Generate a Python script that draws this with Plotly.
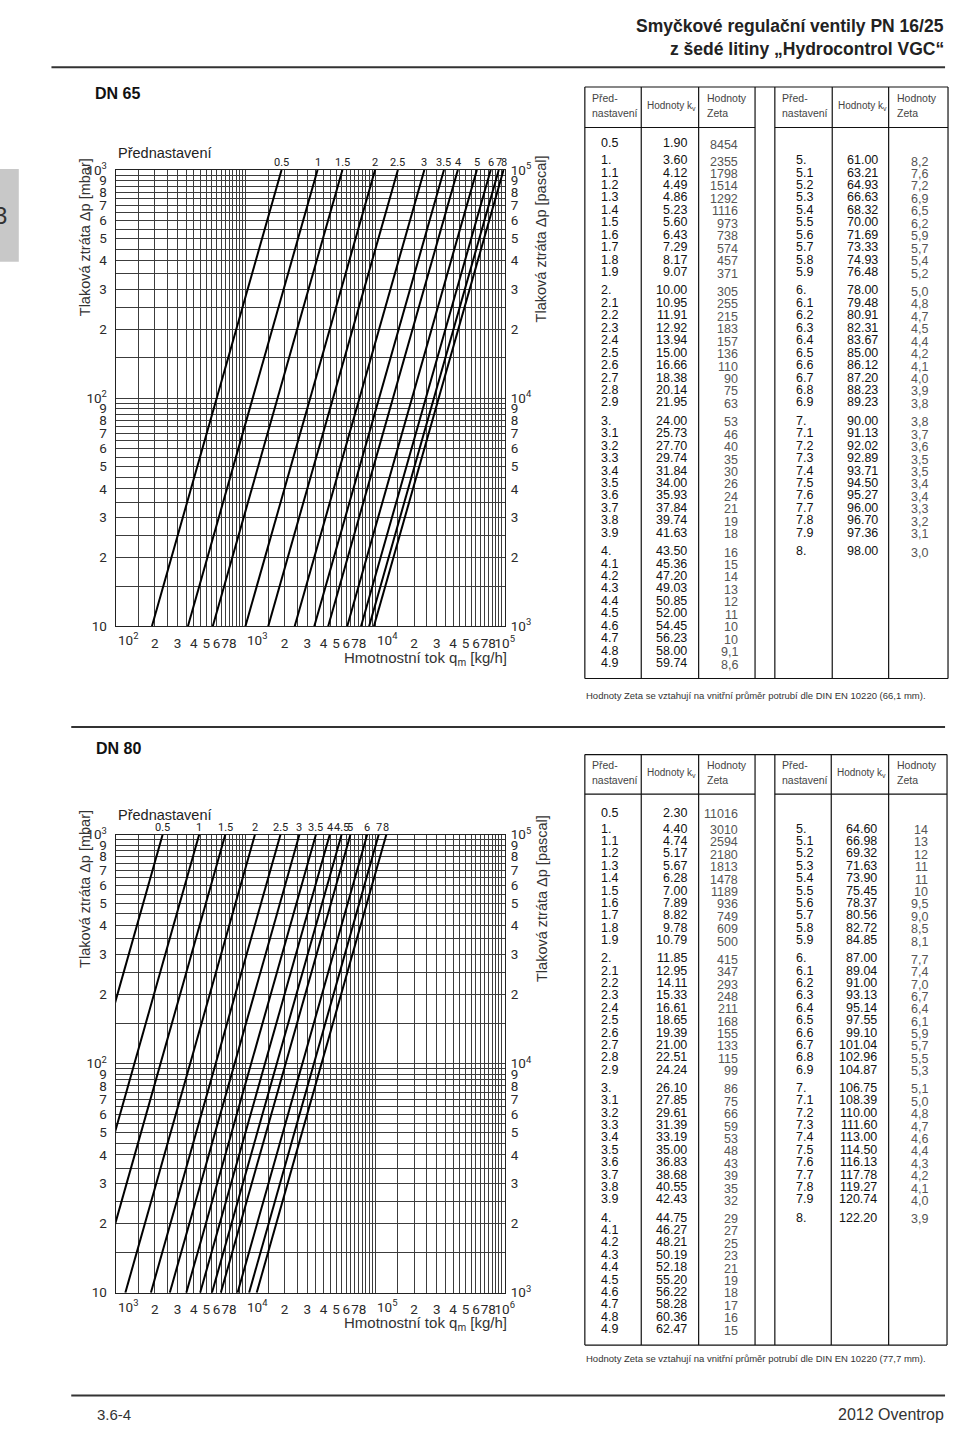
import math
import plotly.graph_objects as go

W, H = 960, 1435
SANS = "Liberation Sans, Arial, sans-serif"
NARROW = "Liberation Sans Narrow, Arial Narrow, Liberation Sans, sans-serif"
TECH = "Roboto, Noto Sans, DejaVu Sans, sans-serif"

# ---------------- data ----------------
presets_left = ["0.5"] + [f"{g}.{d}" if d else f"{g}." for g in range(1, 5) for d in range(10)]
presets_right = [f"{g}.{d}" if d else f"{g}." for g in range(5, 8) for d in range(10)] + ["8."]

kv65_left = [1.90, 3.60, 4.12, 4.49, 4.86, 5.23, 5.60, 6.43, 7.29, 8.17, 9.07,
             10.00, 10.95, 11.91, 12.92, 13.94, 15.00, 16.66, 18.38, 20.14, 21.95,
             24.00, 25.73, 27.70, 29.74, 31.84, 34.00, 35.93, 37.84, 39.74, 41.63,
             43.50, 45.36, 47.20, 49.03, 50.85, 52.00, 54.45, 56.23, 58.00, 59.74]
zeta65_left = ["8454", "2355", "1798", "1514", "1292", "1116", "973", "738", "574", "457", "371",
               "305", "255", "215", "183", "157", "136", "110", "90", "75", "63",
               "53", "46", "40", "35", "30", "26", "24", "21", "19", "18",
               "16", "15", "14", "13", "12", "11", "10", "10", "9,1", "8,6"]
kv65_right = [61.00, 63.21, 64.93, 66.63, 68.32, 70.00, 71.69, 73.33, 74.93, 76.48,
              78.00, 79.48, 80.91, 82.31, 83.67, 85.00, 86.12, 87.20, 88.23, 89.23,
              90.00, 91.13, 92.02, 92.89, 93.71, 94.50, 95.27, 96.00, 96.70, 97.36,
              98.00]
zeta65_right = ["8,2", "7,6", "7,2", "6,9", "6,5", "6,2", "5,9", "5,7", "5,4", "5,2",
                "5,0", "4,8", "4,7", "4,5", "4,4", "4,2", "4,1", "4,0", "3,9", "3,8",
                "3,8", "3,7", "3,6", "3,5", "3,5", "3,4", "3,4", "3,3", "3,2", "3,1",
                "3,0"]

kv80_left = [2.30, 4.40, 4.74, 5.17, 5.67, 6.28, 7.00, 7.89, 8.82, 9.78, 10.79,
             11.85, 12.95, 14.11, 15.33, 16.61, 18.65, 19.39, 21.00, 22.51, 24.24,
             26.10, 27.85, 29.61, 31.39, 33.19, 35.00, 36.83, 38.68, 40.55, 42.43,
             44.75, 46.27, 48.21, 50.19, 52.18, 55.20, 56.22, 58.28, 60.36, 62.47]
zeta80_left = ["11016", "3010", "2594", "2180", "1813", "1478", "1189", "936", "749", "609", "500",
               "415", "347", "293", "248", "211", "168", "155", "133", "115", "99",
               "86", "75", "66", "59", "53", "48", "43", "39", "35", "32",
               "29", "27", "25", "23", "21", "19", "18", "17", "16", "15"]
kv80_right = [64.60, 66.98, 69.32, 71.63, 73.90, 75.45, 78.37, 80.56, 82.72, 84.85,
              87.00, 89.04, 91.00, 93.13, 95.14, 97.55, 99.10, 101.04, 102.96, 104.87,
              106.75, 108.39, 110.00, 111.60, 113.00, 114.50, 116.13, 117.78, 119.27, 120.74,
              122.20]
zeta80_right = ["14", "13", "12", "11", "11", "10", "9,5", "9,0", "8,5", "8,1",
                "7,7", "7,4", "7,0", "6,7", "6,4", "6,1", "5,9", "5,7", "5,5", "5,3",
                "5,1", "5,0", "4,8", "4,7", "4,6", "4,4", "4,3", "4,2", "4,1", "4,0",
                "3,9"]

curves65 = ["0.5", "1", "1.5", "2", "2.5", "3", "3.5", "4", "5", "6", "7", "8"]
curves80 = ["0.5", "1", "1.5", "2", "2.5", "3", "3.5", "4", "4.5", "5", "6", "7", "8"]

grid_mantissas = [1, 1.5, 2, 2.5, 3, 3.5, 4, 4.5, 5, 5.5, 6, 6.5, 7, 7.5, 8, 8.5, 9, 9.5]
x_labelled = [2, 3, 4, 5, 6, 7, 8]
y_labelled = [2, 3, 4, 5, 6, 7, 8, 9]
dp_range_mbar = [10, 1000]


def kv_lookup(presets, kvs):
    return {float(p[:-1]) if p.endswith(".") else float(p): k for p, k in zip(presets, kvs)}


kvmap65 = kv_lookup(presets_left, kv65_left)
kvmap65.update(kv_lookup(presets_right, kv65_right))
kvmap80 = kv_lookup(presets_left, kv80_left)
kvmap80.update(kv_lookup(presets_right, kv80_right))


# ---------------- helpers (page pixels -> paper) ----------------
def PX(x):
    return x / W


def PY(y):
    return 1 - y / H


annotations = []
shapes = []


def T(x, y, text, size=12, color="#111", xa="left", ya="middle", family=SANS, angle=0):
    annotations.append(dict(x=PX(x), y=PY(y), xref="paper", yref="paper", text=text, showarrow=False,
                            xanchor=xa, yanchor=ya, textangle=angle,
                            font=dict(size=size, color=color, family=family), borderpad=0))


def L(x0, y0, x1, y1, w=1.2, color="#111"):
    shapes.append(dict(type="line", xref="paper", yref="paper", x0=PX(x0), y0=PY(y0), x1=PX(x1), y1=PY(y1),
                       line=dict(color=color, width=w)))


def log_ticks(dec_lo, dec_hi, labelled, decade_text=True):
    vals, txt = [], []
    for d in range(dec_lo, dec_hi + 1):
        for m in grid_mantissas:
            if d == dec_hi and m > 1:
                break
            vals.append(m * 10 ** d)
            if m == 1:
                txt.append(f"10<sup>{d}</sup>" if (decade_text or d == dec_hi) else "")
            elif m in labelled:
                txt.append(str(int(m)))
            else:
                txt.append("")
    return vals, txt


fig = go.Figure()

# ---------------- curves ----------------
for curves, kvmap, xa, ya in [(curves65, kvmap65, "x", "y"), (curves80, kvmap80, "x2", "y2")]:
    for c in curves:
        kv = kvmap[float(c)]
        qm = [1000 * kv * (dp / 1000) ** 0.5 for dp in dp_range_mbar]
        fig.add_trace(go.Scatter(x=qm, y=dp_range_mbar, xaxis=xa, yaxis=ya, mode="lines",
                                 line=dict(color="#000", width=2), showlegend=False, hoverinfo="skip"))
# invisible traces for the pascal axes
fig.add_trace(go.Scatter(x=[1e3], y=[1e4], xaxis="x", yaxis="y3", mode="markers",
                         marker=dict(opacity=0), showlegend=False, hoverinfo="skip"))
fig.add_trace(go.Scatter(x=[1e4], y=[1e4], xaxis="x2", yaxis="y4", mode="markers",
                         marker=dict(opacity=0), showlegend=False, hoverinfo="skip"))

# ---------------- axes ----------------
GRID = "#3c3c3c"
TICKF = dict(family=TECH, size=13.5, color="#2a2a2a")


def xaxis(dom, lo, hi, anchor):
    v, t = log_ticks(lo, hi, x_labelled, decade_text=False)
    return dict(type="log", range=[lo, hi], domain=dom, anchor=anchor, tickvals=v, ticktext=t,
                showgrid=True, gridcolor=GRID, gridwidth=1, showline=True, linecolor="#222",
                linewidth=1.3, mirror=True, ticks="", tickfont=TICKF, zeroline=False,
                tickangle=0, ticklabelstandoff=4)


def yaxis(dom, lo, hi, anchor, last_label="10"):
    v, t = log_ticks(lo, hi, y_labelled)
    t = [last_label if i == 0 else s for i, s in enumerate(t)]
    return dict(type="log", range=[lo, hi], domain=dom, anchor=anchor, tickvals=v, ticktext=t,
                showgrid=True, gridcolor=GRID, gridwidth=1, showline=True, linecolor="#222",
                linewidth=1.3, mirror=True, ticks="", tickfont=TICKF, zeroline=False,
                ticklabelstandoff=5)


def yright(lo, hi, over, anchor):
    v, t = log_ticks(lo, hi, y_labelled)
    return dict(type="log", range=[lo, hi], overlaying=over, side="right", anchor=anchor, tickvals=v,
                ticktext=t, showgrid=False, showline=False, ticks="", tickfont=TICKF, zeroline=False,
                ticklabelstandoff=5)


xdom = [PX(117), PX(510)]
fig.update_layout(
    width=W, height=H, margin=dict(l=0, r=0, t=0, b=0),
    paper_bgcolor="white", plot_bgcolor="white", showlegend=False,
    xaxis=xaxis(xdom, 2, 5, "y"),
    yaxis=yaxis([PY(624), PY(162)], 1, 3, "x"),
    yaxis3=yright(3, 5, "y", "x"),
    xaxis2=xaxis(xdom, 3, 6, "y2"),
    yaxis2=yaxis([PY(1299), PY(835)], 1, 3, "x2"),
    yaxis4=yright(3, 5, "y2", "x2"),
)

# ---------------- chart texts ----------------
for (ax, lo, hi, bottom, curves, kvmap, label_y, title_y, yl, yr, xt_y) in [
        ("x", 2, 5, 624, curves65, kvmap65, 154, 145, 230, 232, 657),
        ("x2", 3, 6, 1299, curves80, kvmap80, 828, 815, 890, 900, 1330)]:
    T(118, title_y, "Přednastavení", size=14.5, color="#222")
    for c in curves:
        kv = kvmap[float(c)]
        annotations.append(dict(x=math.log10(1000 * kv), y=PY(label_y), xref=ax, yref="paper",
                                text=c, showarrow=False, xanchor="center", yanchor="middle",
                                font=dict(size=11, color="#222", family=TECH), borderpad=0))
    # decade labels of the flow axis start at their grid line
    for d in range(lo, hi):
        annotations.append(dict(x=d, y=PY(bottom + 3), xref=ax, yref="paper", text=f"10<sup>{d}</sup>",
                                showarrow=False, xanchor="left", yanchor="top", xshift=1,
                                font=TICKF, borderpad=0))
    T(86, yl, "Tlaková ztráta Δp [mbar]", size=14.5, color="#333", xa="center", angle=-90)
    T(547, yr, "Tlaková ztráta Δp [pascal]", size=14.5, color="#333", xa="center", angle=-90)
    T(513, xt_y, "Hmotnostní tok q<sub>m</sub> [kg/h]", size=15, color="#333", xa="right")

# ---------------- page furniture ----------------
T(955, 16, "<b>Smyčkové regulační ventily PN 16/25</b>", size=17.5, color="#222", xa="right", family=NARROW)
T(955, 40, "<b>z šedé litiny „Hydrocontrol VGC“</b>", size=17.5, color="#222", xa="right", family=NARROW)
L(52, 58, 955, 58, w=2, color="#333")
shapes.append(dict(type="rect", xref="paper", yref="paper", x0=PX(0), x1=PX(19), y0=PY(255), y1=PY(161),
                   fillcolor="#c8c8c8", line=dict(width=0)))
T(0, 208, "3", size=24, color="#333", xa="center")
T(95, 85, "<b>DN 65</b>", size=16, color="#111", family=NARROW)
L(72, 726, 955, 726, w=2, color="#333")
T(96, 748, "<b>DN 80</b>", size=16, color="#111", family=NARROW)
L(72, 1403, 955, 1403, w=2, color="#333")
T(97, 1422, "3.6-4", size=15, color="#333", family=NARROW)
T(955, 1422, "2012 Oventrop", size=16, color="#333", xa="right", family=NARROW)


# ---------------- tables ----------------
def table(top, sep, bottom, cols, row05_y, group_start, group_step, row_step,
          kvl, zl, kvr, zr, note, note_y):
    x0, c1, c2, c3, c4, c5, c6, x1 = cols
    L(x0, top, x1, top)
    L(x0, bottom, x1, bottom)
    L(x0, sep, c3, sep)
    L(c4, sep, x1, sep)
    for x in cols:
        L(x, top, x, bottom)
    hy1, hy2, hym = top + 11, top + 26, top + 19
    for base, kvx, zx in [(x0, c1, c2), (c4, c5, c6)]:
        T(base + 6, hy1, "Před-", size=10.5, color="#444")
        T(base + 6, hy2, "nastavení", size=10.5, color="#444")
        T(kvx + 5, hym, "Hodnoty k<sub>v</sub>", size=10, color="#444")
        T(zx + 7, hy1, "Hodnoty", size=10.5, color="#444")
        T(zx + 7, hy2, "Zeta", size=10.5, color="#444")

    def rows(presets, kvs, zetas, yf, px, kx, zx):
        for i, (p, k, z) in enumerate(zip(presets, kvs, zetas)):
            y = yf(i)
            T(px, y, p, size=12.5, color="#111")
            T(kx, y, f"{k:.2f}", size=12.5, color="#111", xa="right")
            T(zx, y + 1.5, z, size=12.5, color="#555", xa="right")

    def yl(i):
        if i == 0:
            return row05_y
        g, r = divmod(i - 1, 10)
        return group_start + g * group_step + r * row_step

    def yr(i):
        g, r = divmod(i, 10)
        return group_start + g * group_step + r * row_step

    rows(presets_left, kvl, zl, yl, x0 + 15, c1 + 47, c2 + 41)
    rows(presets_right, kvr, zr, yr, c4 + 20, c5 + 47, c6 + 41)
    T(x0, note_y, note, size=9.5, color="#333")


table(78, 119, 677, [591, 648, 706, 763, 783, 841, 898, 958], 135, 152, 132, 12.6,
      kv65_left, zeta65_left, kv65_right, zeta65_right,
      "Hodnoty Zeta se vztahují na vnitřní průměr potrubí dle DIN EN 10220 (66,1 mm).", 694)
table(754, 794, 1352, [591, 648, 706, 763, 783, 840, 898, 957], 813, 829, 131.3, 12.55,
      kv80_left, zeta80_left, kv80_right, zeta80_right,
      "Hodnoty Zeta se vztahují na vnitřní průměr potrubí dle DIN EN 10220 (77,7 mm).", 1366)

fig.update_layout(annotations=annotations, shapes=shapes)
fig.write_html("out.html")
